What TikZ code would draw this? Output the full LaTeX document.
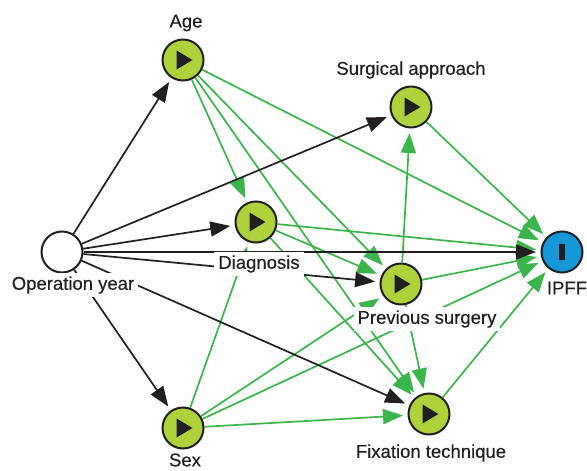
\documentclass[tikz,border=0pt]{standalone}
\usepackage{fontspec}
\setmainfont{Liberation Sans}
\newfontfamily\labfont{Liberation Sans}[FakeBold=0.35]
\usetikzlibrary{arrows.meta}
\definecolor{inkc}{RGB}{35,31,32}
\definecolor{leaf}{RGB}{174,210,60}
\definecolor{edgeg}{RGB}{57,181,74}
\definecolor{skyc}{RGB}{20,152,215}
\tikzset{
  x=1pt,y=-1pt,
  vnode/.style={circle,draw=inkc,line width=2pt,minimum size=41pt,inner sep=0pt,fill=leaf},
  opnode/.style={vnode,fill=white},
  outnode/.style={vnode,fill=skyc},
  ge/.style={draw=edgeg,line width=1.7pt,-{Triangle[length=20pt,width=15pt]},shorten >=4.5pt},
  be/.style={draw=inkc,line width=1.7pt,-{Triangle[length=20pt,width=15pt]},shorten >=4.5pt},
  lab/.style={fill=white,text=inkc,font=\labfont\fontsize{18.5}{20}\selectfont,inner xsep=4pt,inner ysep=3pt},
  plain/.style={text=inkc,font=\labfont\fontsize{18.5}{20}\selectfont,inner sep=1pt},
  tri/.style={fill=inkc,draw=none}
}
\begin{document}
\begin{tikzpicture}
\useasboundingbox (0,0) rectangle (587,471);
\node[opnode] (op) at (62,252) {};
\node[vnode] (age) at (183,60) {};
\node[vnode] (surg) at (411,107) {};
\node[vnode] (diag) at (256,222) {};
\node[vnode] (prev) at (401,284) {};
\node[vnode] (fix) at (429,414) {};
\node[vnode] (sex) at (183,428) {};
\node[outnode] (ipff) at (562,252) {};
\foreach \n in {age,surg,diag,prev,fix,sex}{
  \fill[tri] ([shift={(-6.5,-9.5)}]\n.center) -- ([shift={(9.5,0)}]\n.center) -- ([shift={(-6.5,9.5)}]\n.center) -- cycle;
}
\fill[inkc] ([shift={(-3,-8)}]ipff.center) rectangle ([shift={(3,8)}]ipff.center);
% green edges
\draw[ge] (age) -- (diag);
\draw[ge] (age) -- (prev);
\draw[ge] (age) -- (fix);
\draw[ge] (age) -- (ipff);
\draw[ge] (surg) -- (ipff);
\draw[ge] (diag) -- (ipff);
\draw[ge] (diag) -- (prev);
\draw[ge] (diag) -- (fix);
\draw[ge] (prev) -- (surg);
\draw[ge] (prev) -- (ipff);
\draw[ge] (prev) -- (fix);
\draw[ge] (sex) -- (diag);
\draw[ge] (sex) -- (prev);
\draw[ge] (sex) -- (ipff);
\draw[ge] (sex) -- (fix);
\draw[ge] (fix) -- (ipff);
% black edges
\draw[be] (op) -- (age);
\draw[be] (op) -- (surg);
\draw[be] (op) -- (diag);
\draw[be] (op) -- (ipff);
\draw[be] (op) -- (prev);
\draw[be] (op) -- (fix);
\draw[be] (op) -- (sex);
% labels
\node[lab] (lop) at (73,285) {Operation year};
\node[lab] (ldiag) at (259,264) {Diagnosis};
\node[lab] (lprev) at (427,319) {Previous surgery};
\node[plain] (lage) at (186,23) {Age};
\node[plain] (lsurg) at (411,70) {Surgical approach};
\node[plain] (lfix) at (431,453) {Fixation technique};
\node[plain] (lsex) at (185,460) {Sex};
\node[plain] (lipff) at (567,288) {IPFF};
\end{tikzpicture}
\end{document}
